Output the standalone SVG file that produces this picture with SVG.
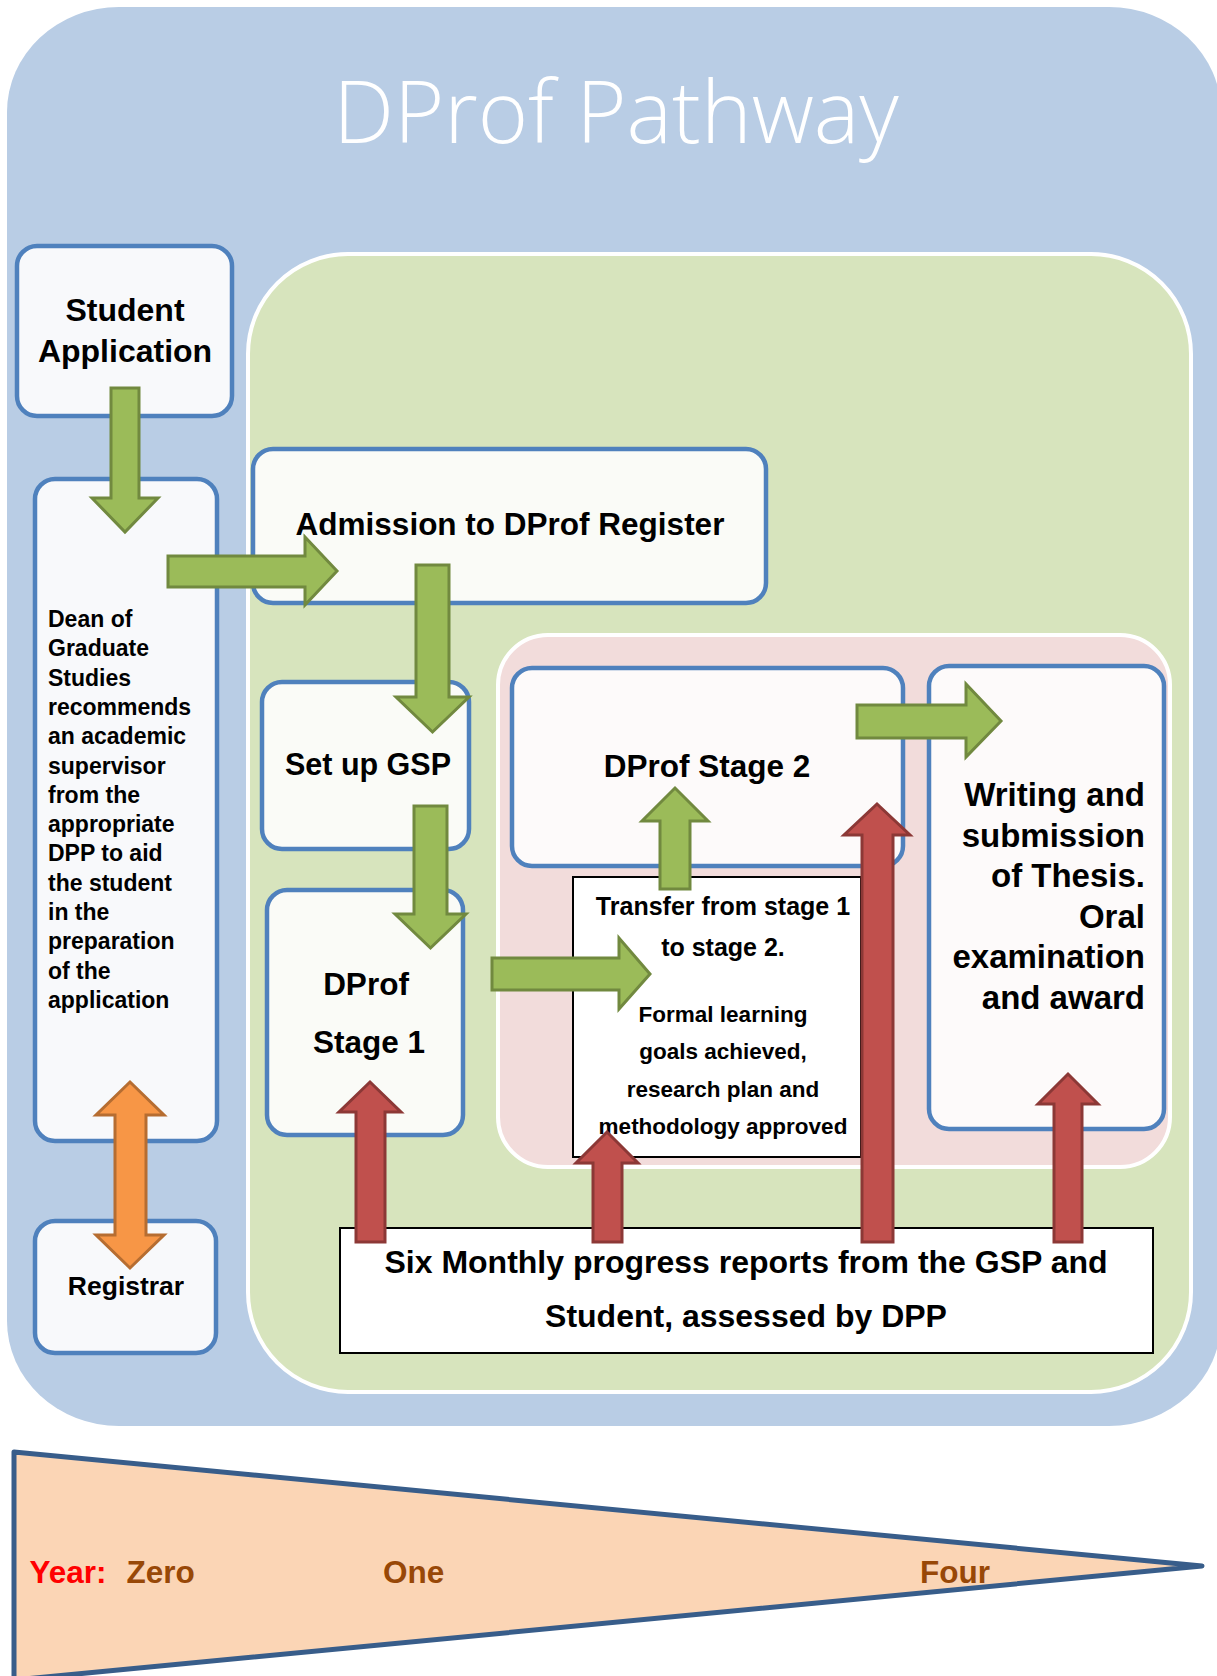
<svg xmlns="http://www.w3.org/2000/svg" width="1217" height="1676" viewBox="0 0 1217 1676">
<defs>
<style>
.bg-blue{fill:#B9CDE5;}
.bg-green{fill:#D7E4BD;stroke:#FFFFFF;stroke-width:4;}
.bg-pink{fill:#F2DCDB;stroke:#FFFFFF;stroke-width:4;}
.node{stroke:#4F81BD;stroke-width:4.5;}
.nb{fill:#F8F9FB;}
.ng{fill:#FAFBF7;}
.np{fill:#FDFAFA;}
.plain{fill:#FFFFFF;stroke:#000000;stroke-width:2;}
.t{font-family:"Liberation Sans",Arial,sans-serif;font-weight:bold;fill:#000000;}
.c{text-anchor:middle;}
.r{text-anchor:end;}
.ga{fill:#9BBB59;stroke:#71893F;stroke-width:3;}
.ra{fill:#C0504D;stroke:#8C3836;stroke-width:3;}
.oa{fill:#F79646;stroke:#B66D31;stroke-width:3;}
.yr{font-family:"Liberation Sans",Arial,sans-serif;font-weight:bold;font-size:31.5px;}
</style>
</defs>

<g id="background">
<rect class="bg-blue" x="7" y="7" width="1214" height="1419" rx="112" ry="105"/>
<text x="616" y="143" text-anchor="middle" font-family="'Open Sans','Liberation Sans',sans-serif" font-weight="300" font-size="86" fill="#FFFFFF">DProf Pathway</text>
<rect class="bg-green" x="248" y="254" width="943" height="1138" rx="100" ry="100"/>
<rect class="bg-pink" x="498" y="635" width="672" height="532" rx="50" ry="50"/>
</g>

<g id="student-application">
<rect class="node nb" x="17" y="246" width="215" height="170" rx="20"/>
<text class="t c" x="125" y="321" font-size="32">Student</text>
<text class="t c" x="125" y="362" font-size="32">Application</text>
</g>

<g id="dean">
<rect class="node nb" x="35" y="479" width="182" height="662" rx="20"/>
<text class="t" font-size="23"><tspan x="48" y="627">Dean of</tspan><tspan x="48" y="656.3">Graduate</tspan><tspan x="48" y="685.6">Studies</tspan><tspan x="48" y="714.9">recommends</tspan><tspan x="48" y="744.2">an academic</tspan><tspan x="48" y="773.5">supervisor</tspan><tspan x="48" y="802.8">from the</tspan><tspan x="48" y="832.1">appropriate</tspan><tspan x="48" y="861.4">DPP to aid</tspan><tspan x="48" y="890.7">the student</tspan><tspan x="48" y="920">in the</tspan><tspan x="48" y="949.3">preparation</tspan><tspan x="48" y="978.6">of the</tspan><tspan x="48" y="1007.9">application</tspan></text>
</g>

<g id="registrar">
<rect class="node nb" x="35" y="1221" width="181" height="132" rx="20"/>
<text class="t c" x="126" y="1295" font-size="26.5">Registrar</text>
</g>

<g id="admission">
<rect class="node ng" x="253" y="449" width="513" height="154" rx="20"/>
<text class="t c" x="510" y="535" font-size="31.5">Admission to DProf Register</text>
</g>

<g id="set-up-gsp">
<rect class="node ng" x="262" y="682" width="207" height="167" rx="20"/>
<text class="t c" x="368" y="775" font-size="30.5">Set up GSP</text>
</g>

<g id="stage1">
<rect class="node ng" x="267" y="890" width="196" height="245" rx="20"/>
<text class="t c" x="366" y="995" font-size="31.5">DProf</text>
<text class="t c" x="369" y="1053" font-size="31.5">Stage 1</text>
</g>

<g id="stage2">
<rect class="node np" x="512" y="668" width="391" height="198" rx="20"/>
<text class="t c" x="707" y="777" font-size="31.5">DProf Stage 2</text>
</g>

<g id="writing">
<rect class="node np" x="929" y="666" width="235" height="463" rx="20"/>
<text class="t r" x="1145" y="806" font-size="33">Writing and</text>
<text class="t r" x="1145" y="847" font-size="33">submission</text>
<text class="t r" x="1145" y="887" font-size="33">of Thesis.</text>
<text class="t r" x="1145" y="928" font-size="33">Oral</text>
<text class="t r" x="1145" y="968" font-size="33">examination</text>
<text class="t r" x="1145" y="1009" font-size="33">and award</text>
</g>

<g id="transfer">
<rect class="plain" x="573" y="877" width="288" height="280"/>
<text class="t c" x="723" y="915" font-size="25">Transfer from stage 1</text>
<text class="t c" x="723" y="956" font-size="25">to stage 2.</text>
<text class="t c" x="723" y="1022" font-size="22.5">Formal learning</text>
<text class="t c" x="723" y="1059" font-size="22.5">goals achieved,</text>
<text class="t c" x="723" y="1097" font-size="22.5">research plan and</text>
<text class="t c" x="723" y="1134" font-size="22.5">methodology approved</text>
</g>

<g id="progress-reports">
<rect class="plain" x="340" y="1228" width="813" height="125"/>
<text class="t c" x="746" y="1273" font-size="32">Six Monthly progress reports from the GSP and</text>
<text class="t c" x="746" y="1327" font-size="32">Student, assessed by DPP</text>
</g>

<g id="connectors">
<polygon class="ga" points="111,388 139,388 139,498 158,498 125,532 92,498 111,498"/>
<polygon class="ga" points="168,556 305,556 305,537 337,571 305,605 305,587 168,587"/>
<polygon class="ga" points="416,565 449,565 449,697 469,697 432.5,732 396,697 416,697"/>
<polygon class="ga" points="414,806 447,806 447,914 466,914 430.5,948 395,914 414,914"/>
<polygon class="ga" points="492,958 619,958 619,938 650,974 619,1009 619,990 492,990"/>
<polygon class="ga" points="660,889 690,889 690,821 708,821 675,788 642,821 660,821"/>
<polygon class="ga" points="857,705 966,705 966,684 1001,721 966,757 966,738 857,738"/>
<polygon class="ra" points="356,1242 385,1242 385,1112 401,1112 370,1082 339,1112 356,1112"/>
<polygon class="ra" points="593,1242 622,1242 622,1163 638,1163 607,1132 576,1163 593,1163"/>
<polygon class="ra" points="862,1242 893,1242 893,835 910,835 877,804 844,835 862,835"/>
<polygon class="ra" points="1054,1242 1082,1242 1082,1104 1098,1104 1068,1074 1038,1104 1054,1104"/>
<polygon class="oa" points="130,1082 164,1115 146,1115 146,1235 164,1235 130,1268 96,1235 115,1235 115,1115 96,1115"/>
</g>

<g id="timeline">
<polygon points="14,1452 1202,1566 14,1680" fill="#FBD5B5" stroke="#385D8A" stroke-width="5" stroke-linejoin="round"/>
<text class="yr" x="29.5" y="1583" fill="#FF0000">Year:</text>
<text class="yr" x="126.5" y="1583" fill="#984807">Zero</text>
<text class="yr" x="383" y="1583" fill="#984807">One</text>
<text class="yr" x="920" y="1583" fill="#984807">Four</text>
</g>
</svg>
